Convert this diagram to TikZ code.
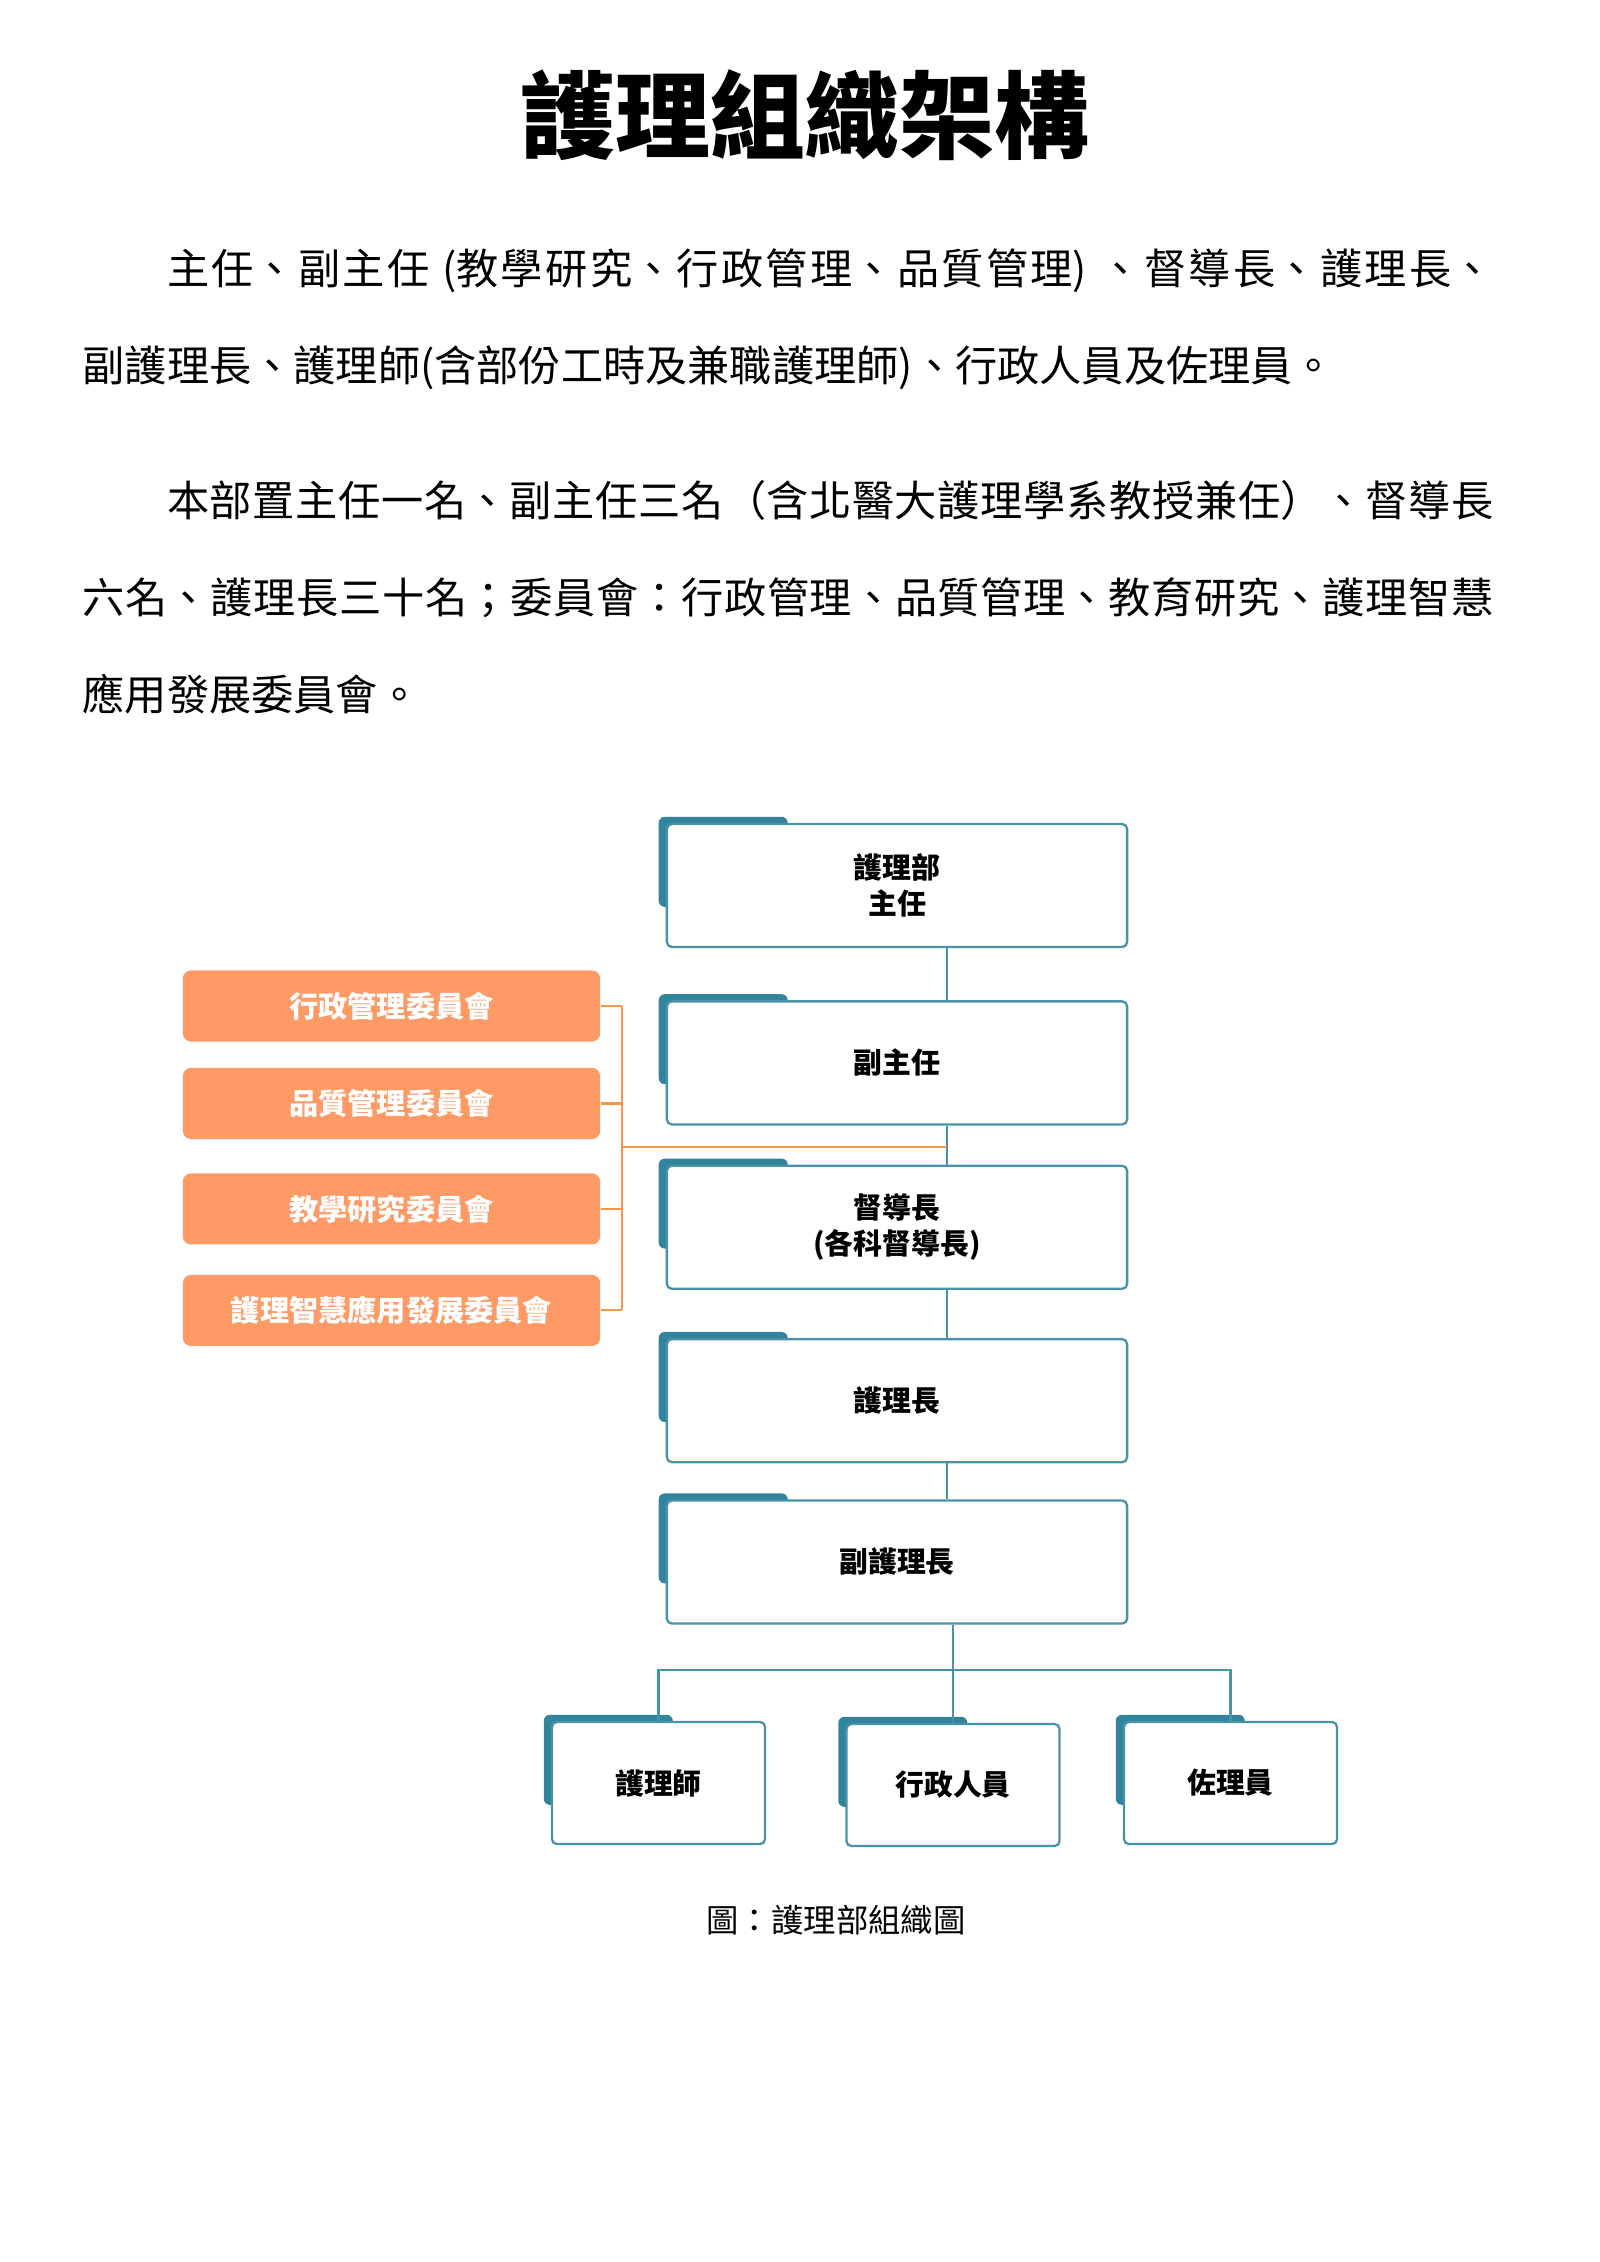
\documentclass[tikz,border=0pt]{standalone}
\usepackage{fontspec}
\setmainfont{Noto Sans CJK TC}
\usepackage{tikz}
\usetikzlibrary{positioning,backgrounds}
\XeTeXlinebreaklocale "zh"
\XeTeXlinebreakskip=0pt plus 1pt
\setlength{\parindent}{0pt}
\definecolor{tealtab}{HTML}{31849B}
\definecolor{tealline}{HTML}{4A92A8}
\definecolor{orangebox}{HTML}{FE9A66}
\definecolor{orangeline}{HTML}{F79646}

\begin{document}
\begin{tikzpicture}[%
        x=0.01cm, y=-0.01cm,
        node distance=0.5cm,
        rolebox/.style={%
          rectangle, rounded corners=0.05cm,
          minimum width=4.6cm, minimum height=1.23cm,
          draw=tealline, line width=0.65pt, fill=white,
          align=center, font=\fontsize{8.2}{10.2}\selectfont\bfseries
        },
        staffbox/.style={rolebox, minimum width=2.13cm, minimum height=1.22cm},
        committee/.style={%
          rectangle, rounded corners=0.08cm, fill=orangebox,
          minimum width=4.17cm, minimum height=0.71cm, text=white,
          font=\fontsize{8.3}{10}\selectfont\bfseries
        },
        bodytext/.style={%
          anchor=north west, inner sep=0pt, text width=14.1cm, align=justify,
          font=\fontsize{12}{27.6}\selectfont
        },
        link/.style={draw=tealline, line width=0.6pt},
        olink/.style={draw=orangeline, line width=0.6pt}
      ]
      \useasboundingbox (0,0) rectangle (1600,2262);

      \node[font=\fontsize{27}{32}\selectfont\bfseries] (title) at (805,115) {護理組織架構};
      \node[bodytext] (p1) at (82,248) {\hspace*{2em}主任、副主任 (教學研究、行政管理、品質管理) 、督導長、護理長、\linebreak 副護理長、護理師(含部份工時及兼職護理師)、行政人員及佐理員。};
      \node[bodytext] (p2) at (82,480) {\hspace*{2em}本部置主任一名、副主任三名（含北醫大護理學系教授兼任）、督導長\linebreak 六名、護理長三十名；委員會：行政管理、品質管理、教育研究、護理智慧\linebreak 應用發展委員會。};

      % chain of ranks
      \node[rolebox] (1) at (897,885.5) {護理部\\主任};
      \node[rolebox, below=0.52cm of 1] (2) {副主任};
      \node[rolebox, below=0.39cm of 2] (3) {督導長\\(各科督導長)};
      \node[rolebox, below=0.48cm of 3] (4) {護理長};
      \node[rolebox, below=0.36cm of 4] (5) {副護理長};
      \node[staffbox] (6) at (658.5,1783) {護理師};
      \node[staffbox] (7) at (953,1785) {行政人員};
      \node[staffbox] (8) at (1230.5,1783) {佐理員};

      % committees
      \node[committee] (c1) at (391.5,1006) {行政管理委員會};
      \node[committee, below=0.25cm of c1] (c2) {品質管理委員會};
      \node[committee, below=0.33cm of c2] (c3) {教學研究委員會};
      \node[committee, below=0.29cm of c3] (c4) {護理智慧應用發展委員會};

      \begin{scope}[on background layer]
        \foreach \n in {1,...,8}
          \fill[tealtab, rounded corners=0.06cm] ([shift={(-7,-6)}]\n.north west) rectangle ([shift={(122,84)}]\n.north west);
      \end{scope}

      \coordinate (spine) at (947,0);
      \coordinate (bus) at (0,1670);
      \coordinate (ojoin) at (622,1147);
      \foreach \a/\b in {1/2,2/3,3/4,4/5}
        \draw[link] (\a.south -| spine) -- (\b.north -| spine);
      \draw[link] (5.south -| 7.north) -- (7.north);
      \draw[link] (6.north) |- (bus -| 7.north) -| (8.north);

      \foreach \c in {c1,c2,c3,c4}
        \draw[olink] (\c.east) -- (\c.east -| ojoin);
      \draw[olink] (c1.east -| ojoin) -- (c4.east -| ojoin);
      \draw[olink] (ojoin) -- (ojoin -| spine);

      \node[font=\fontsize{9.2}{11}\selectfont] (cap) at (836,1920) {圖：護理部組織圖};
    \end{tikzpicture}
\end{document}
